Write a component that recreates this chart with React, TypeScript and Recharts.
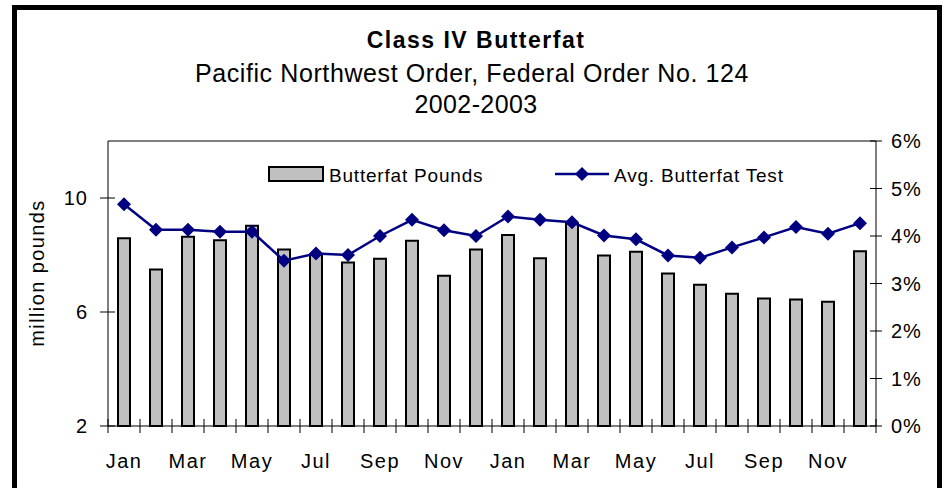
import React from 'react';
import { ComposedChart, Bar, Line, XAxis, YAxis, ReferenceLine } from 'recharts';

// Jan 2002 .. Dec 2003
const months = [
  'Jan', 'Feb', 'Mar', 'Apr', 'May', 'Jun', 'Jul', 'Aug', 'Sep', 'Oct', 'Nov', 'Dec',
  'Jan', 'Feb', 'Mar', 'Apr', 'May', 'Jun', 'Jul', 'Aug', 'Sep', 'Oct', 'Nov', 'Dec',
];

// million pounds of butterfat
const butterfatPounds = [
  8.59, 7.49, 8.64, 8.52, 9.03, 8.19, 8.02, 7.74, 7.87, 8.5, 7.27, 8.19,
  8.7, 7.89, 9.1, 7.98, 8.11, 7.35, 6.96, 6.64, 6.47, 6.44, 6.36, 8.13,
];

// average butterfat test, percent
const butterfatTest = [
  4.67, 4.13, 4.13, 4.09, 4.09, 3.48, 3.63, 3.6, 4.0, 4.34, 4.12, 4.0,
  4.41, 4.34, 4.29, 4.01, 3.93, 3.59, 3.54, 3.76, 3.97, 4.19, 4.05, 4.27,
];

const leftTicks = [2, 6, 10];
const rightTicks = [0, 1, 2, 3, 4, 5, 6];

const data = months.map((m, i) => ({
  month: m,
  pounds: butterfatPounds[i],
  test: butterfatTest[i],
}));

const FONT = '"Liberation Sans", Arial, sans-serif';
const NAVY = '#000080';

const MonthTick = (props: any) => {
  const { x, y, payload, index, visibleTicksCount } = props;
  const half = payload && payload.offset ? payload.offset : 16;
  const last = (visibleTicksCount || months.length) - 1;
  return (
    <g>
      <line x1={x - half} x2={x - half} y1={y - 7} y2={y + 7} stroke="#000" />
      {index === last && <line x1={x + half} x2={x + half} y1={y - 7} y2={y + 7} stroke="#000" />}
      {index % 2 === 0 && (
        <text x={x} y={y + 42} textAnchor="middle" fontFamily={FONT} fontSize={20} letterSpacing={1.5} fill="#000">
          {payload.value}
        </text>
      )}
    </g>
  );
};

const LeftTick = ({ x, y, payload }: any) => (
  <g>
    <line x1={x - 8} x2={x + 7} y1={y} y2={y} stroke="#000" />
    <text x={x - 20} y={y} dy="0.35em" textAnchor="end" fontFamily={FONT} fontSize={20} letterSpacing={1} fill="#000">
      {payload.value}
    </text>
  </g>
);

const RightTick = ({ x, y, payload }: any) => (
  <g>
    <line x1={x - 6} x2={x + 6} y1={y} y2={y} stroke="#000" />
    <text x={x + 15} y={y} dy="0.35em" textAnchor="start" fontFamily={FONT} fontSize={20} letterSpacing={1} fill="#000">
      {`${payload.value}%`}
    </text>
  </g>
);

const Diamond = ({ cx, cy }: any) => {
  if (cx == null || cy == null) return null;
  const r = 7;
  return <polygon points={`${cx},${cy - r} ${cx + r},${cy} ${cx},${cy + r} ${cx - r},${cy}`} fill={NAVY} />;
};

export default function App() {
  return (
    <div style={{ position: 'fixed', left: 0, top: 0, width: 951, height: 488, overflow: 'hidden', background: '#fff' }}>
      <div
        style={{
          position: 'absolute', left: 12, top: 5, width: 930, height: 600,
          border: '5px solid #000', boxSizing: 'border-box',
        }}
      />
      <ComposedChart
        width={951}
        height={488}
        data={data}
        margin={{ top: 141, right: 15, bottom: 22, left: 48 }}
        barCategoryGap={0}
      >
        <XAxis
          dataKey="month"
          interval={0}
          tickSize={0}
          tickMargin={0}
          height={40}
          stroke="#000"
          tick={<MonthTick />}
        />
        <YAxis
          yAxisId="left"
          domain={[2, 12]}
          ticks={leftTicks}
          width={60}
          tickSize={0}
          tickMargin={0}
          stroke="#000"
          tick={<LeftTick />}
        />
        <YAxis
          yAxisId="right"
          orientation="right"
          domain={[0, 6]}
          ticks={rightTicks}
          width={60}
          tickSize={0}
          tickMargin={0}
          stroke="#000"
          tick={<RightTick />}
        />
        <ReferenceLine yAxisId="left" y={12} stroke="#000" />
        <Bar
          yAxisId="left"
          dataKey="pounds"
          barSize={12}
          fill="#C0C0C0"
          stroke="#000"
          strokeWidth={2}
          isAnimationActive={false}
        />
        <Line
          yAxisId="right"
          dataKey="test"
          stroke={NAVY}
          strokeWidth={2.5}
          dot={<Diamond />}
          activeDot={false}
          isAnimationActive={false}
        />
      </ComposedChart>
      <svg width={951} height={488} style={{ position: 'absolute', left: 0, top: 0, pointerEvents: 'none' }}>
        <g fontFamily={FONT} fill="#000" textAnchor="middle">
          <text x={476} y={48} fontSize={23} fontWeight="bold" letterSpacing={1.5}>Class IV Butterfat</text>
          <text x={472} y={82} fontSize={25} letterSpacing={0.6}>Pacific Northwest Order, Federal Order No. 124</text>
          <text x={476} y={113} fontSize={25} letterSpacing={0.4}>2002-2003</text>
        </g>
        <text
          x={44}
          y={273}
          transform="rotate(-90 44 273)"
          textAnchor="middle"
          fontFamily={FONT}
          fontSize={20}
          letterSpacing={1.4}
          fill="#000"
        >
          million pounds
        </text>
        <rect x={269} y={167} width={54} height={14} fill="#C0C0C0" stroke="#000" strokeWidth={2} />
        <text x={329} y={182} fontFamily={FONT} fontSize={19} letterSpacing={0.8} fill="#000">Butterfat Pounds</text>
        <line x1={555} x2={609} y1={174} y2={174} stroke={NAVY} strokeWidth={2.5} />
        <polygon points="582,167 589,174 582,181 575,174" fill={NAVY} />
        <text x={614} y={182} fontFamily={FONT} fontSize={19} letterSpacing={0.8} fill="#000">Avg. Butterfat Test</text>
      </svg>
    </div>
  );
}
